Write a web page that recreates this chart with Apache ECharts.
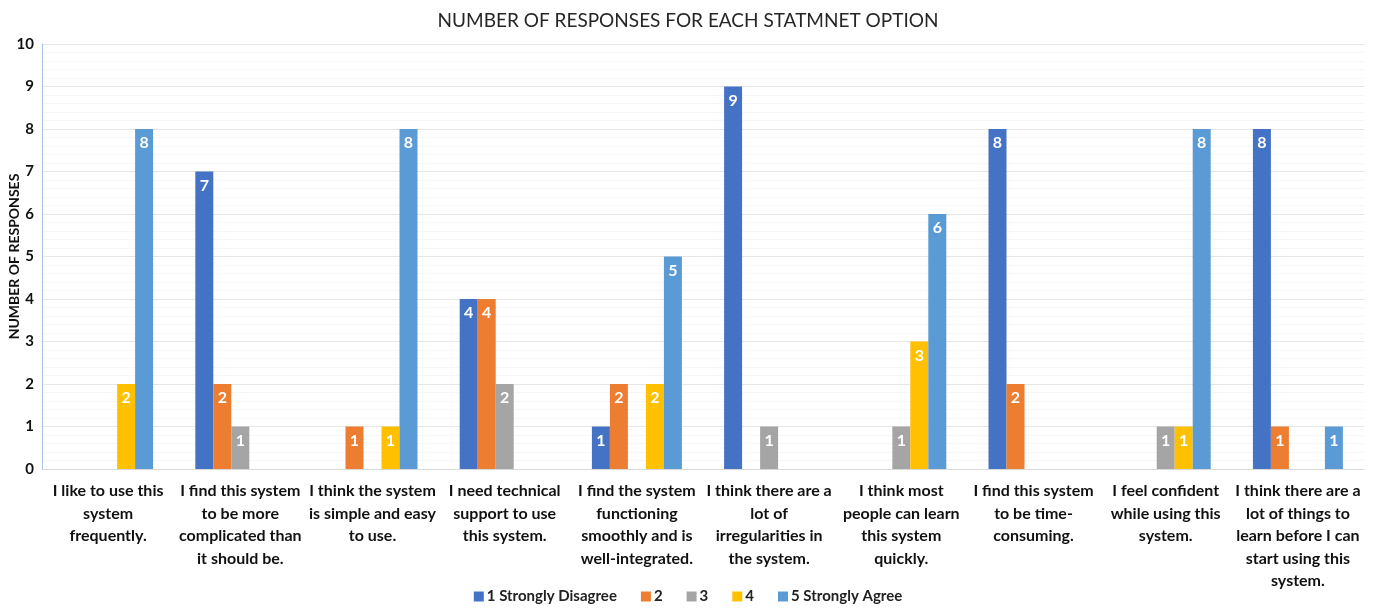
<!DOCTYPE html>
<html><head><meta charset="utf-8">
<script src="https://cdn.jsdelivr.net/npm/echarts@6/dist/echarts.min.js"></script>
<style>html,body{margin:0;padding:0;background:#fff}#c{width:1376px;height:610px}</style>
</head><body><div id="c"></div>
<script>
const categories = [
  "I like to use this\nsystem\nfrequently.",
  "I find this system\nto be more\ncomplicated than\nit should be.",
  "I think the system\nis simple and easy\nto use.",
  "I need technical\nsupport to use\nthis system.",
  "I find the system\nfunctioning\nsmoothly and is\nwell-integrated.",
  "I think there are a\nlot of\nirregularities in\nthe system.",
  "I think most\npeople can learn\nthis system\nquickly.",
  "I find this system\nto be time-\nconsuming.",
  "I feel confident\nwhile using this\nsystem.",
  "I think there are a\nlot of things to\nlearn before I can\nstart using this\nsystem."
];
const seriesNames = ["1 Strongly Disagree", "2", "3", "4", "5 Strongly Agree"];
const s1 = [0, 7, 0, 4, 1, 9, 0, 8, 0, 8];
const s2 = [0, 2, 1, 4, 2, 0, 0, 2, 0, 1];
const s3 = [0, 1, 0, 2, 0, 1, 1, 0, 1, 0];
const s4 = [2, 0, 1, 0, 2, 0, 3, 0, 1, 0];
const s5 = [8, 0, 8, 0, 5, 0, 6, 0, 8, 1];
const yTicks = [0,1,2,3,4,5,6,7,8,9,10];
const colors = ["#4472C4", "#ED7D31", "#A5A5A5", "#FFC000", "#5B9BD5"];
const FONT = "Lato, 'Open Sans', sans-serif";

const chart = echarts.init(document.getElementById('c'), null, {renderer: 'canvas'});
const allData = [s1, s2, s3, s4, s5];
chart.setOption({
  animation: false,
  color: colors,
  textStyle: {fontFamily: FONT},
  title: {
    text: "NUMBER OF RESPONSES FOR EACH STATMNET OPTION",
    left: 'center', top: 6,
    textStyle: {fontFamily: FONT, fontSize: 19, fontWeight: 'normal', color: '#262626'}
  },
  legend: {
    bottom: 1, left: 'center',
    itemWidth: 10, itemHeight: 10, itemGap: 24, itemStyle: {borderWidth: 0},
    icon: 'rect',
    textStyle: {fontFamily: FONT, fontSize: 15, fontWeight: 'bold', color: '#222', padding: [0, 0, 0, -2]},
    data: seriesNames
  },
  grid: {left: 42, right: 12, top: 44, bottom: 141, containLabel: false, outerBoundsMode: 'none'},
  xAxis: {
    type: 'category', data: categories,
    axisLine: {lineStyle: {color: '#d9d9d9'}},
    axisTick: {show: false},
    axisLabel: {interval: 0, fontFamily: FONT, fontSize: 16, fontWeight: 'bold', color: '#111', lineHeight: 22.5, margin: 11}
  },
  yAxis: {
    type: 'value', min: yTicks[0], max: yTicks[yTicks.length-1], interval: 1,
    name: "NUMBER OF RESPONSES", nameLocation: 'middle', nameGap: 21, nameRotate: 90,
    nameMoveOverlap: false,
    nameTextStyle: {fontFamily: FONT, fontSize: 14, fontWeight: 'bold', color: '#111'},
    axisLine: {show: true, lineStyle: {color: '#a9c1e8'}},
    axisTick: {show: false},
    axisLabel: {fontFamily: FONT, fontSize: 15, fontWeight: 'bold', color: '#111', margin: 8},
    splitLine: {lineStyle: {color: '#e6e6e6'}},
    minorTick: {show: false, splitNumber: 5},
    minorSplitLine: {show: true, lineStyle: {color: '#f7f7f7'}}
  },
  series: seriesNames.map((n, i) => ({
    name: n, type: 'bar', data: allData[i],
    barWidth: 18, barGap: '0%',
    label: {
      show: true, position: 'insideTop', distance: 6,
      color: '#fff', fontFamily: FONT, fontSize: 16, fontWeight: 'bold',
      formatter: p => p.value ? String(p.value) : ''
    }
  }))
});
</script></body></html>
